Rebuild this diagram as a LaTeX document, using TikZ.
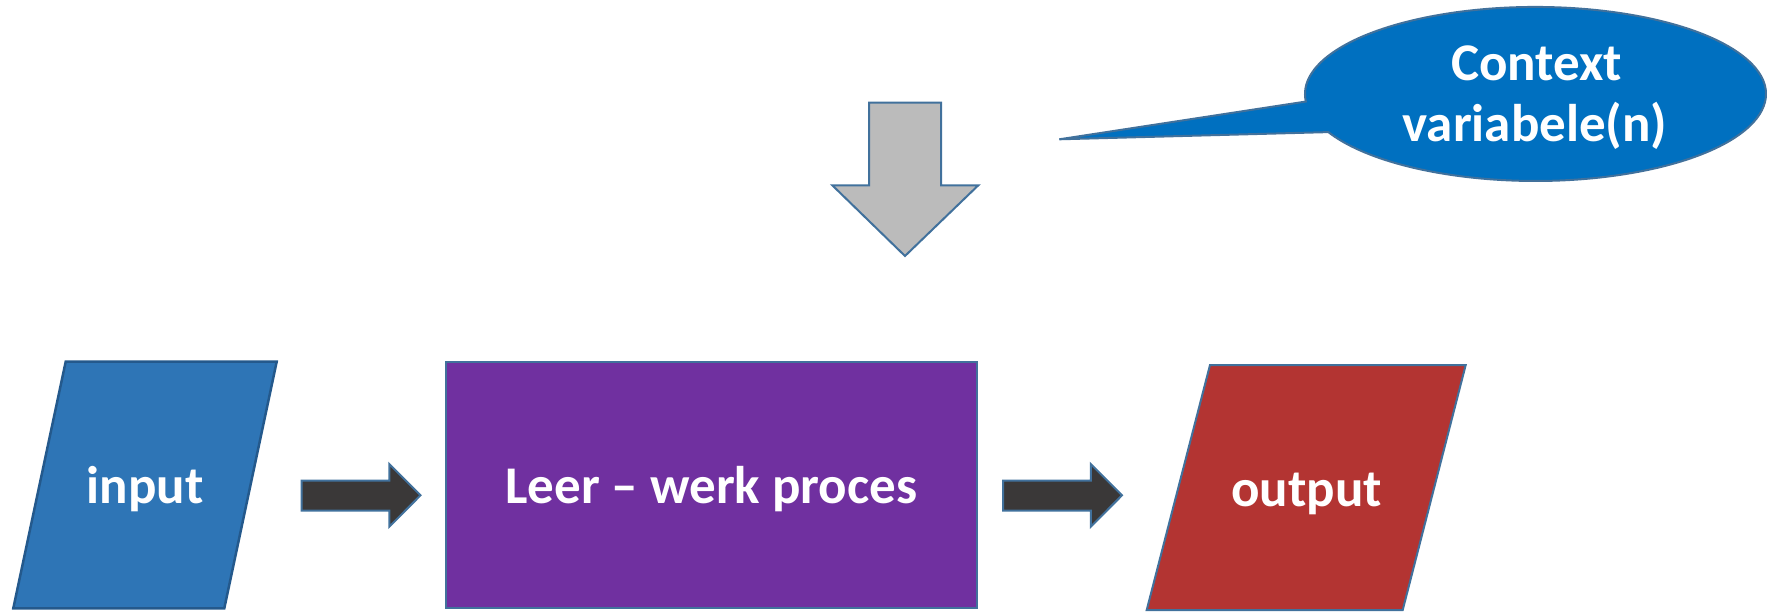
\documentclass[tikz,border=0pt]{standalone}
\usepackage{fontspec}
\setmainfont{Carlito}
\definecolor{inblue}{HTML}{2E75B6}
\definecolor{inborder}{HTML}{24598C}
\definecolor{procpurple}{HTML}{7030A0}
\definecolor{outred}{HTML}{B33432}
\definecolor{edgeblue}{HTML}{41719C}
\definecolor{darkarrow}{HTML}{3A3838}
\definecolor{greyarrow}{HTML}{BBBBBB}
\definecolor{ctxblue}{HTML}{0070C0}
\tikzset{
  shapeedge/.style={draw=edgeblue, line width=2pt, line join=miter},
  boxtext/.style={text=white, font=\fontsize{53}{64}\selectfont\bfseries, inner sep=0pt, anchor=base},
  blockarrow/.style={shapeedge, fill=darkarrow},
}
\begin{document}
\begin{tikzpicture}[x=1pt,y=-1pt]
\useasboundingbox (0,0) rectangle (1767,613);
% input parallelogram
\draw[fill=inblue, draw=inborder, line width=2.5pt] (65.7,361.7) -- (276.7,361.7) -- (224.3,608.3) -- (13.3,608.3) -- cycle;
\node[boxtext] (input) at (145.3,503.3) {input};
% process box
\draw[shapeedge, fill=procpurple] (445.5,361.7) rectangle (977,608.3);
\node[boxtext] (proc) at (711.5,503.3) {Leer – werk proces};
% output parallelogram
\draw[shapeedge, fill=outred] (1210,365) -- (1465.7,365) -- (1402.7,610) -- (1146.7,610) -- cycle;
\node[boxtext] (output) at (1306.5,506.7) {output};
% block arrows
\draw[blockarrow] (301.7,480.5) -- (389.3,480.5) -- (389.3,464) -- (420.5,495.3) -- (389.3,526.7) -- (389.3,510.7) -- (301.7,510.7) -- cycle;
\begin{scope}[shift={(701.5,0)}]
\draw[blockarrow] (301.7,480.5) -- (389.3,480.5) -- (389.3,464) -- (420.5,495.3) -- (389.3,526.7) -- (389.3,510.7) -- (301.7,510.7) -- cycle;
\end{scope}
% down arrow
\draw[shapeedge, fill=greyarrow] (869,102.7) -- (941,102.7) -- (941,185.3) -- (978.3,185.3) -- (905,256) -- (832.3,185.3) -- (869,185.3) -- cycle;
% callout
\draw[shapeedge, fill=ctxblue] (1328.3,132.1) arc[start angle=154, end angle=-185, x radius=230.5, y radius=87] -- (1059.3,139.3) -- cycle;
\node[boxtext] (ctxa) at (1536.5,80) {Context};
\node[boxtext] (ctxb) at (1535,141.7) {variabele(n)};
\end{tikzpicture}
\end{document}
